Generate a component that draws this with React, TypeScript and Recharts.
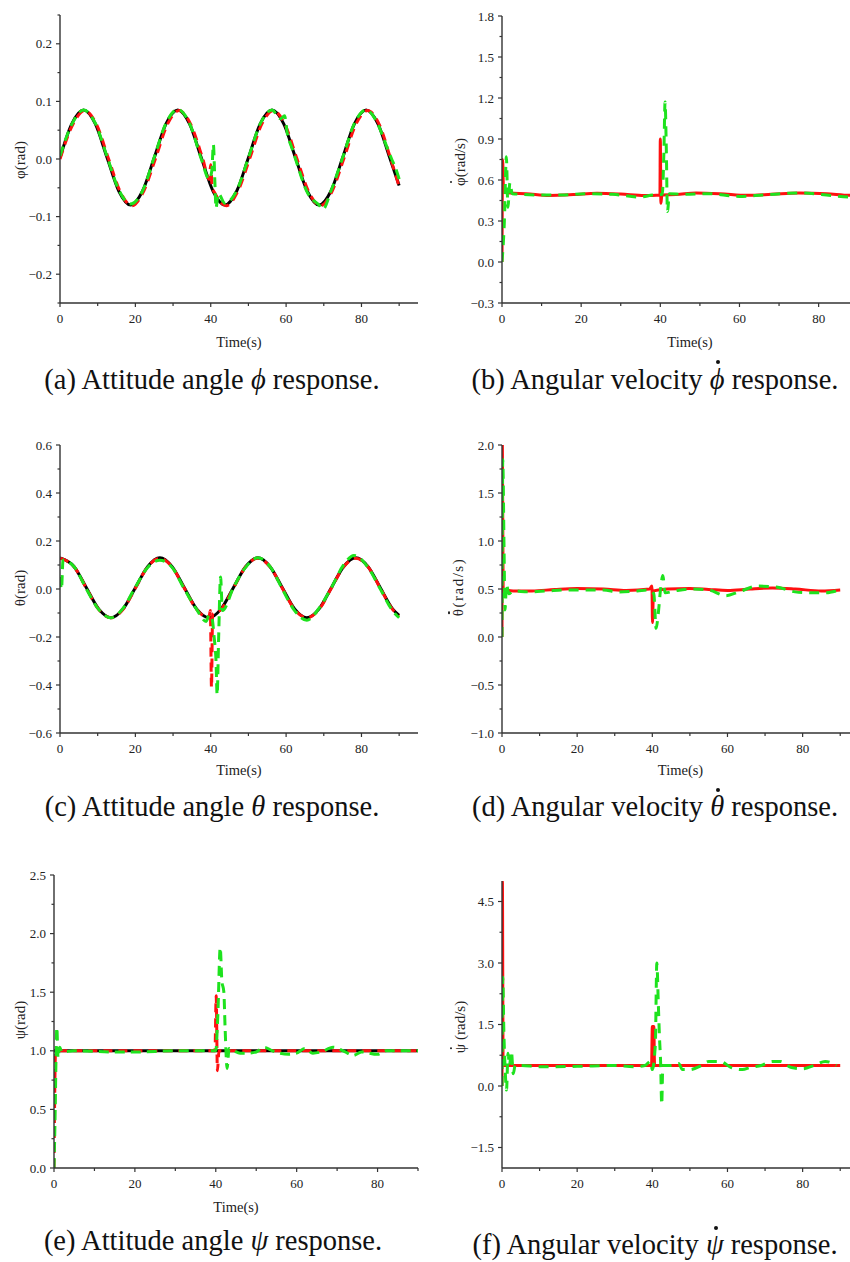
import React from 'react';
import { LineChart, Line, XAxis, YAxis } from 'recharts';

type Pt = [number, number];

const FONT = '"Liberation Serif", "Times New Roman", "DejaVu Serif", serif';
const AXIS = '#333333';
const RED = '#ff1010';
const GREEN = '#1ee21e';
const BLACK = '#000000';

// x ticks shared by all panels
const xMajor = [0, 20, 40, 60, 80];
const xMinor = [10, 30, 50, 70, 90];

// (a) attitude angle phi
const phiMajor = [-0.2, -0.1, 0, 0.1, 0.2];
const phiMinor = [-0.25, -0.15, -0.05, 0.05, 0.15, 0.25];
const phiRef: Pt[] = [
  [0, 0.002], [3.125, 0.061], [6.25, 0.085], [9.375, 0.061], [12.5, 0.002], [15.625, -0.056],
  [18.75, -0.08], [21.875, -0.056], [25, 0.002], [28.125, 0.061], [31.25, 0.085], [34.375, 0.061],
  [37.5, 0.002], [40.625, -0.056], [43.75, -0.08], [46.875, -0.056], [50, 0.002], [53.125, 0.061],
  [56.25, 0.085], [59.375, 0.061], [62.5, 0.002], [65.625, -0.056], [68.75, -0.08], [71.875, -0.056],
  [75, 0.002], [78.125, 0.061], [81.25, 0.085], [84.375, 0.061], [87.5, 0.002], [90, -0.046],
];
const phiRed: Pt[] = [
  [0, 0.0], [3.4, 0.06], [6.6, 0.084], [9.7, 0.06], [12.9, 0.0], [16, -0.057], [19.1, -0.081],
  [22.2, -0.056], [25.4, 0.002], [28.5, 0.06], [31.6, 0.084], [34.7, 0.06], [37.9, 0.0], [39.6, -0.035],
  [40.0, -0.01], [40.4, -0.05], [41, -0.058], [44.1, -0.081], [47.2, -0.056], [50.4, 0.002], [53.5, 0.06],
  [56.6, 0.084], [59.7, 0.06], [62.9, 0.0], [66, -0.057], [69.1, -0.081], [72.2, -0.056], [75.4, 0.002],
  [78.5, 0.06], [81.6, 0.084], [84.7, 0.06], [87.9, -0.003], [90, -0.048],
];
const phiGreen: Pt[] = [
  [0, 0.005], [3.125, 0.06], [6.25, 0.085], [9.375, 0.062], [12.5, 0.004], [15.625, -0.054],
  [18.75, -0.078], [21.875, -0.056], [25, 0.003], [28.125, 0.062], [31.25, 0.086], [34.375, 0.062],
  [37.5, 0.0], [39.6, -0.035], [40.3, -0.02], [40.7, 0.025], [41.1, -0.04], [41.4, -0.085], [42, -0.06],
  [43.75, -0.077], [46.875, -0.055], [50, 0.002], [53.125, 0.061], [56.25, 0.085], [58.5, 0.07],
  [59.6, 0.075], [60.3, 0.045], [61.5, 0.02], [62.5, 0.0], [65.625, -0.058], [68.75, -0.08], [69.8, -0.087],
  [71.875, -0.056], [75, 0.002], [78.125, 0.062], [81.25, 0.085], [84.375, 0.06], [86.5, 0.025],
  [88, 0.0], [89, -0.015], [90, -0.035],
];

// (b) angular velocity phi dot
const dphiMajor = [-0.3, 0, 0.3, 0.6, 0.9, 1.2, 1.5, 1.8];
const dphiMinor = [-0.15, 0.15, 0.45, 0.75, 1.05, 1.35, 1.65];
const dphiRed: Pt[] = [
  [0, 0], [0.15, 0.75], [0.4, 0.51], [2, 0.505], [6, 0.5], [12, 0.487], [18, 0.493], [24, 0.503],
  [30, 0.497], [36, 0.486], [39.9, 0.49], [40.0, 0.9], [40.15, 0.43], [40.4, 0.49], [44, 0.493],
  [49, 0.505], [55, 0.5], [62, 0.488], [68, 0.495], [75, 0.505], [82, 0.5], [88, 0.488], [92, 0.49],
];
const dphiGreen: Pt[] = [
  [0, 0], [0.6, 0.3], [1.1, 0.77], [1.5, 0.4], [2.0, 0.58], [2.6, 0.5], [5, 0.495], [10, 0.49],
  [15, 0.49], [22, 0.5], [28, 0.495], [35, 0.475], [38, 0.49], [40.5, 0.495], [40.9, 0.8], [41.2, 1.17],
  [41.5, 0.85], [41.8, 0.37], [42.3, 0.5], [46, 0.495], [52, 0.5], [60, 0.48], [66, 0.49], [75, 0.505],
  [82, 0.49], [88, 0.475], [92, 0.48],
];

// (c) attitude angle theta
const thetaMajor = [-0.6, -0.4, -0.2, 0, 0.2, 0.4, 0.6];
const thetaMinor = [-0.5, -0.3, -0.1, 0.1, 0.3, 0.5];
const thetaRef: Pt[] = [
  [0, 0.129], [3.75, 0.093], [7, 0.005], [10.25, -0.083], [13.5, -0.12], [16.75, -0.083], [20, 0.005],
  [23.25, 0.093], [26.5, 0.13], [29.75, 0.093], [33, 0.005], [36.25, -0.083], [39.5, -0.12],
  [42.75, -0.083], [46, 0.005], [49.25, 0.093], [52.5, 0.13], [55.75, 0.093], [59, 0.005],
  [62.25, -0.083], [65.5, -0.12], [68.75, -0.083], [72, 0.005], [75.25, 0.093], [78.5, 0.13],
  [81.75, 0.093], [85, 0.005], [88.25, -0.083], [90, -0.11],
];
const thetaRed: Pt[] = [
  [0, 0.128], [3.75, 0.092], [7, 0.003], [10.25, -0.085], [13.5, -0.12], [16.75, -0.085], [20, 0.003],
  [23.25, 0.092], [26.5, 0.128], [29.75, 0.092], [33, 0.003], [36.25, -0.085], [39.5, -0.12],
  [39.9, -0.09], [40.2, -0.41], [40.5, -0.105], [42.75, -0.085], [46, 0.003], [49.25, 0.092],
  [52.5, 0.128], [55.75, 0.092], [59, 0.003], [62.25, -0.085], [65.5, -0.12], [68.75, -0.085],
  [72, 0.003], [75.25, 0.092], [78.5, 0.128], [81.75, 0.092], [85, 0.003], [88.25, -0.085], [90, -0.112],
];
const thetaGreen: Pt[] = [
  [0, 0.05], [0.4, 0.0], [0.8, 0.12], [3.75, 0.093], [7, 0.0], [10.25, -0.085], [13.5, -0.12],
  [16.75, -0.08], [20, 0.008], [23.25, 0.09], [26.5, 0.12], [29.75, 0.09], [33, 0.0], [36.25, -0.085],
  [38.8, -0.135], [39.5, -0.11], [40.3, -0.12], [40.9, -0.2], [41.4, -0.3], [41.7, -0.44], [42.1, -0.2],
  [42.6, 0.05], [43.1, -0.09], [46, 0.005], [49.25, 0.09], [52.5, 0.13], [55.75, 0.093], [59, 0.0],
  [62.25, -0.09], [65.5, -0.13], [68.75, -0.08], [72, 0.005], [75.25, 0.1], [78, 0.14], [81.75, 0.09],
  [85, 0.0], [88.25, -0.09], [90, -0.12],
];

// (d) angular velocity theta dot
const dthetaMajor = [-1, -0.5, 0, 0.5, 1, 1.5, 2];
const dthetaMinor = [-0.75, -0.25, 0.25, 0.75, 1.25, 1.75];
const dthetaRed: Pt[] = [
  [0, 0], [0.1, 2.0], [0.3, 0.5], [3, 0.48], [8, 0.48], [14, 0.495], [20, 0.505], [27, 0.5],
  [33, 0.485], [39.3, 0.5], [39.9, 0.53], [40.05, 0.15], [40.3, 0.48], [44, 0.5], [50, 0.505],
  [55, 0.495], [60, 0.485], [66, 0.5], [72, 0.51], [78, 0.5], [85, 0.48], [90, 0.49],
];
const dthetaGreen: Pt[] = [
  [0, 0], [0.2, 1.85], [0.55, 0.9], [0.8, 0.28], [1.2, 0.55], [1.8, 0.45], [3, 0.48], [7, 0.47],
  [12, 0.48], [17, 0.49], [22, 0.49], [27, 0.49], [31, 0.47], [36, 0.48], [39, 0.49], [40.4, 0.45],
  [41, 0.09], [41.6, 0.25], [42.2, 0.5], [42.8, 0.64], [43.4, 0.46], [46, 0.48], [50, 0.5], [55, 0.49],
  [59.5, 0.43], [63, 0.47], [68, 0.53], [73, 0.52], [78, 0.47], [82, 0.46], [86, 0.46], [89, 0.48],
];

// (e) attitude angle psi
const psiMajor = [0, 0.5, 1, 1.5, 2, 2.5];
const psiMinor = [0.25, 0.75, 1.25, 1.75, 2.25];
const psiRef: Pt[] = [[0, 1.0], [90, 1.0]];
const psiRed: Pt[] = [
  [0, 0], [0.4, 1.0], [39.8, 1.0], [40.1, 1.47], [40.4, 0.83], [40.8, 1.0], [90, 1.0],
];
const psiGreen: Pt[] = [
  [0, 0], [0.3, 0.5], [0.5, 0.95], [0.7, 1.2], [1.0, 0.94], [1.4, 1.03], [2, 0.99], [5, 1.0],
  [15, 0.99], [20, 0.99], [30, 1.0], [40, 1.0], [40.5, 1.3], [41.1, 1.88], [41.5, 1.6], [42, 1.5],
  [42.3, 1.2], [42.8, 0.85], [43.3, 1.02], [44.5, 1.0], [46, 0.98], [48, 0.98], [50, 0.99], [52, 1.03],
  [54, 1.0], [58, 0.97], [60, 0.98], [62, 1.02], [64, 0.98], [66, 0.99], [69, 1.03], [72, 0.99],
  [74, 0.96], [76, 0.99], [80, 0.97], [82, 1.0], [90, 1.0],
];

// (f) angular velocity psi dot
const dpsiMajor = [-1.5, 0, 1.5, 3, 4.5];
const dpsiMinor = [-0.75, 0.75, 2.25, 3.75];
const dpsiRed: Pt[] = [
  [0, 0], [0.1, 5.0], [0.3, 0.5], [39.8, 0.5], [40.0, 1.45], [40.4, 1.45], [40.6, 0.5], [90, 0.5],
];
const dpsiGreen: Pt[] = [
  [0, 0], [0.2, 2.65], [0.5, 1.3], [0.8, 0.5], [1.2, -0.1], [1.6, 0.8], [2.0, 0.5], [2.5, 0.85],
  [3.0, 0.3], [3.5, 0.5], [5, 0.5], [10, 0.47], [20, 0.48], [30, 0.5], [35, 0.47], [38, 0.5],
  [39.5, 0.6], [40, 0.4], [40.8, 1.0], [41.2, 3.0], [41.6, 2.0], [41.9, 1.2], [42.2, 0.6], [42.5, -0.45],
  [42.8, 0.5], [45, 0.5], [47, 0.55], [48, 0.4], [50, 0.4], [53, 0.5], [55, 0.6], [58, 0.6], [61, 0.45],
  [64, 0.4], [66, 0.45], [69, 0.5], [72, 0.6], [74, 0.6], [77, 0.45], [80, 0.42], [83, 0.5], [86, 0.6],
  [88, 0.55], [89, 0.5],
];

interface SeriesDef {
  data: Pt[];
  color: string;
  width: number;
  dash?: string;
}

interface PanelProps {
  left: number;
  top: number;
  width: number;
  height: number;
  plotLeft: number;
  plotTop: number;
  plotBottom: number;
  plotRight: number;
  xDomain: [number, number];
  yDomain: [number, number];
  yMajor: number[];
  yMinor: number[];
  series: SeriesDef[];
  timeLabelBase?: number;
}

const near = (v: number, list: number[]) => list.some((m) => Math.abs(m - v) < 1e-6);
const fmtY = (v: number) => (v < -1e-9 ? '\u2212' : '') + Math.abs(v).toFixed(1);
const toPts = (arr: Pt[]) => arr.map(([t, y]) => ({ t, y }));

const Panel: React.FC<PanelProps> = (p) => {
  const xTicks = [...xMajor, ...xMinor].filter((v) => v <= p.xDomain[1]).sort((a, b) => a - b);
  const yTicks = [...p.yMajor, ...p.yMinor].sort((a, b) => a - b);

  const renderXTick = (props: any) => {
    const { x, y, payload } = props;
    const major = near(payload.value, xMajor);
    return (
      <g>
        <line x1={x} x2={x} y1={y} y2={y + (major ? 4 : 3)} stroke={AXIS} strokeWidth={1.2} />
        {major && (
          <text x={x} y={y + 20} textAnchor="middle" fontSize={13} fontFamily={FONT} fill="#222">
            {payload.value}
          </text>
        )}
      </g>
    );
  };

  const renderYTick = (props: any) => {
    const { x, y, payload } = props;
    const major = near(payload.value, p.yMajor);
    return (
      <g>
        <line x1={x} x2={x - (major ? 4 : 2.5)} y1={y} y2={y} stroke={AXIS} strokeWidth={1.2} />
        {major && (
          <text x={x - 8} y={y + 4.5} textAnchor="end" fontSize={13} fontFamily={FONT} fill="#222">
            {fmtY(payload.value)}
          </text>
        )}
      </g>
    );
  };

  const xAxisHeight = p.top + p.height - p.plotBottom;

  return (
    <div style={{ position: 'absolute', left: p.left, top: p.top }}>
      <LineChart
        width={p.width}
        height={p.height}
        margin={{ top: p.plotTop - p.top, right: p.left + p.width - p.plotRight, left: 0, bottom: 0 }}
      >
        <XAxis
          dataKey="t"
          type="number"
          domain={p.xDomain}
          allowDataOverflow
          ticks={xTicks}
          interval={0}
          height={xAxisHeight}
          tickSize={0}
          tickMargin={0}
          tickLine={false}
          tick={renderXTick}
          axisLine={{ stroke: AXIS, strokeWidth: 1.4 }}
          label={
            p.timeLabelBase
              ? {
                  value: 'Time(s)',
                  position: 'insideBottom',
                  offset: p.top + p.height - p.timeLabelBase,
                  fontSize: 14.5,
                  fontFamily: FONT,
                  fill: '#222',
                }
              : undefined
          }
        />
        <YAxis
          type="number"
          domain={p.yDomain}
          allowDataOverflow
          ticks={yTicks}
          interval={0}
          width={p.plotLeft - p.left}
          tickSize={0}
          tickMargin={0}
          tickLine={false}
          tick={renderYTick}
          axisLine={{ stroke: AXIS, strokeWidth: 1.4 }}
        />
        {p.series.map((s, i) => (
          <Line
            key={i}
            data={toPts(s.data)}
            dataKey="y"
            type="monotone"
            stroke={s.color}
            strokeWidth={s.width}
            strokeDasharray={s.dash}
            dot={false}
            activeDot={false}
            isAnimationActive={false}
          />
        ))}
      </LineChart>
    </div>
  );
};

// a letter with a small round dot over it (time derivative)
const Dotted: React.FC<{ c: string; italic?: boolean; top: number; size: number; shift?: string }> = ({
  c,
  italic,
  top,
  size,
  shift,
}) => (
  <span style={{ position: 'relative', display: 'inline-block' }}>
    {italic ? <i>{c}</i> : c}
    <span
      style={{
        position: 'absolute',
        left: shift ?? '50%',
        top,
        width: size,
        height: size,
        marginLeft: -size / 2,
        borderRadius: '50%',
        background: 'currentColor',
      }}
    />
  </span>
);

const YLabel: React.FC<{ x: number; y: number; spacing?: number; children: React.ReactNode }> = ({
  x,
  y,
  spacing,
  children,
}) => (
  <div
    style={{
      position: 'absolute',
      left: x,
      top: y,
      transform: 'translate(-50%, -50%) rotate(-90deg)',
      fontFamily: FONT,
      fontSize: 15,
      lineHeight: '18px',
      color: '#222',
      whiteSpace: 'nowrap',
      letterSpacing: spacing ?? 0,
    }}
  >
    {children}
  </div>
);

const Caption: React.FC<{ cx: number; base: number; children: React.ReactNode }> = ({ cx, base, children }) => (
  <div
    style={{
      position: 'absolute',
      left: cx - 250,
      width: 500,
      top: base - 27,
      height: 34,
      lineHeight: '34px',
      textAlign: 'center',
      fontFamily: FONT,
      fontSize: 28.5,
      color: '#111',
      whiteSpace: 'nowrap',
    }}
  >
    {children}
  </div>
);

export default function App() {
  return (
    <div
      style={{
        position: 'absolute',
        left: 0,
        top: 0,
        width: 850,
        height: 1262,
        overflow: 'hidden',
        background: '#fff',
      }}
    >
      <Panel
        left={0} top={0} width={430} height={360}
        plotLeft={60} plotTop={15} plotBottom={303} plotRight={418}
        xDomain={[0, 95]} yDomain={[-0.25, 0.25]} yMajor={phiMajor} yMinor={phiMinor}
        timeLabelBase={347}
        series={[
          { data: phiRef, color: BLACK, width: 3 },
          { data: phiRed, color: RED, width: 3, dash: '9 6' },
          { data: phiGreen, color: GREEN, width: 3, dash: '10 6' },
        ]}
      />
      <Panel
        left={425} top={0} width={453} height={360}
        plotLeft={502} plotTop={16} plotBottom={303} plotRight={878}
        xDomain={[0, 95]} yDomain={[-0.3, 1.8]} yMajor={dphiMajor} yMinor={dphiMinor}
        timeLabelBase={347}
        series={[
          { data: dphiRed, color: RED, width: 3 },
          { data: dphiGreen, color: GREEN, width: 3, dash: '10 7' },
        ]}
      />
      <Panel
        left={0} top={430} width={430} height={360}
        plotLeft={60} plotTop={445} plotBottom={733} plotRight={418}
        xDomain={[0, 95]} yDomain={[-0.6, 0.6]} yMajor={thetaMajor} yMinor={thetaMinor}
        timeLabelBase={775}
        series={[
          { data: thetaRef, color: BLACK, width: 3 },
          { data: thetaRed, color: RED, width: 3, dash: '9 6' },
          { data: thetaGreen, color: GREEN, width: 3, dash: '10 6' },
        ]}
      />
      <Panel
        left={425} top={430} width={434} height={360}
        plotLeft={502} plotTop={445} plotBottom={733} plotRight={859}
        xDomain={[0, 95]} yDomain={[-1, 2]} yMajor={dthetaMajor} yMinor={dthetaMinor}
        timeLabelBase={775}
        series={[
          { data: dthetaRed, color: RED, width: 3 },
          { data: dthetaGreen, color: GREEN, width: 3, dash: '10 7' },
        ]}
      />
      <Panel
        left={0} top={860} width={430} height={360}
        plotLeft={54} plotTop={875} plotBottom={1168} plotRight={418}
        xDomain={[0, 90]} yDomain={[0, 2.5]} yMajor={psiMajor} yMinor={psiMinor}
        timeLabelBase={1212}
        series={[
          { data: psiRef, color: BLACK, width: 3 },
          { data: psiRed, color: RED, width: 3, dash: '9 6' },
          { data: psiGreen, color: GREEN, width: 3, dash: '10 6' },
        ]}
      />
      <Panel
        left={425} top={860} width={434} height={360}
        plotLeft={502} plotTop={881} plotBottom={1168} plotRight={859}
        xDomain={[0, 95]} yDomain={[-2, 5]} yMajor={dpsiMajor} yMinor={dpsiMinor}
        series={[
          { data: dpsiRed, color: RED, width: 3 },
          { data: dpsiGreen, color: GREEN, width: 3, dash: '10 7' },
        ]}
      />

      <YLabel x={20} y={160}>{'\u03c6(rad)'}</YLabel>
      <YLabel x={460} y={162}><Dotted c={'\u03c6'} top={-1} size={2.2} />(rad/s)</YLabel>
      <YLabel x={20} y={588}>{'\u03b8(rad)'}</YLabel>
      <YLabel x={458} y={587} spacing={1.5}><Dotted c={'\u03b8'} top={-1} size={2.2} shift="40%" />(rad/s)</YLabel>
      <YLabel x={20} y={1020}>{'\u03c8(rad)'}</YLabel>
      <YLabel x={460} y={1027}><Dotted c={'\u03c8'} top={-1} size={2.2} /> (rad/s)</YLabel>

      <Caption cx={212} base={390}>(a) Attitude angle <i>{'\u03d5'}</i> response.</Caption>
      <Caption cx={655} base={390}>(b) Angular velocity <Dotted c={'\u03d5'} italic top={-3} size={4} shift="58%" /> response.</Caption>
      <Caption cx={212} base={817}>(c) Attitude angle <i>{'\u03b8'}</i> response.</Caption>
      <Caption cx={655} base={817}>(d) Angular velocity <Dotted c={'\u03b8'} italic top={-2} size={4} shift="58%" /> response.</Caption>
      <Caption cx={213} base={1251}>(e) Attitude angle <i>{'\u03c8'}</i> response.</Caption>
      <Caption cx={655} base={1255}>(f) Angular velocity <Dotted c={'\u03c8'} italic top={-2} size={4} shift="58%" /> response.</Caption>
    </div>
  );
}
